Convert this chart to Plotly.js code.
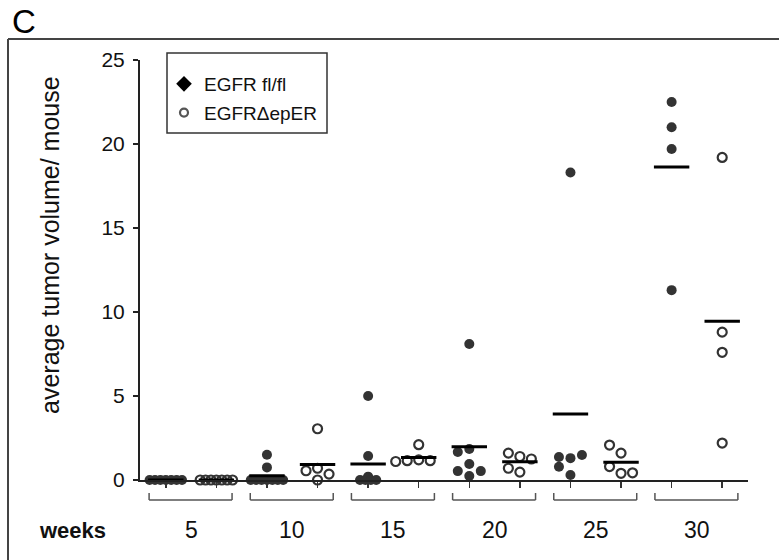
<!DOCTYPE html>
<html>
<head>
<meta charset="utf-8">
<script src="https://cdn.plot.ly/plotly-3.0.1.min.js"></script>
<style>
  html, body { margin: 0; padding: 0; background: #fff; }
  #chart { width: 779px; height: 560px; }
</style>
</head>
<body>
<div id="chart"></div>
<script>
// Time points (weeks after induction)
const weeks = [5, 10, 15, 20, 25, 30];

// Average tumour volume per mouse, one array per time point
const volFloxed = [
  [0, 0, 0, 0, 0, 0, 0],
  [0.75, 1.5, 0, 0, 0, 0, 0, 0, 0],
  [5.0, 1.43, 0.2, 0, 0, 0, 0],
  [8.1, 1.85, 1.67, 0.95, 0.53, 0.53, 0.24],
  [18.3, 1.3, 1.37, 1.49, 0.3, 0.79],
  [22.5, 21.0, 19.7, 11.3]
];
const volDeleted = [
  [0, 0, 0, 0, 0, 0, 0],
  [3.05, 0.7, 0.55, 0.35, 0],
  [2.1, 1.2, 1.15, 1.15, 1.1],
  [1.4, 1.6, 1.25, 0.47, 0.7],
  [1.6, 2.08, 0.4, 0.8, 0.43],
  [19.2, 8.8, 7.6, 2.2]
];

const groupNames = ['EGFR fl/fl', 'EGFR\u0394epER'];
const yTicks = [0, 5, 10, 15, 20, 25];

const X_RANGE = [0.49, 12.51];
const Y_RANGE = [0, 25];
const M = { l: 140, r: 31, t: 60, b: 80 };
const PLOT_W = 779 - M.l - M.r;
const PLOT_H = 560 - M.t - M.b;
const PX_PER_X = PLOT_W / (X_RANGE[1] - X_RANGE[0]);
const PX_PER_Y = PLOT_H / (Y_RANGE[1] - Y_RANGE[0]);

const INK = '#333333';

// Simple beeswarm: zero values sit in a tight row, others are nudged
// sideways in steps until they no longer overlap earlier points.
function swarm(values) {
  const STEP = 11.5, MIN_DIST = 9.5, ZERO_STEP = 5.4;
  const xs = new Array(values.length).fill(0);
  const zeroIdx = [];
  values.forEach((v, i) => { if (v === 0) zeroIdx.push(i); });
  zeroIdx.forEach((idx, k) => { xs[idx] = (k - (zeroIdx.length - 1) / 2) * ZERO_STEP; });
  const placed = [];
  values.forEach((v, i) => {
    if (v === 0) return;
    const py = v * PX_PER_Y;
    for (let k = 0; k < 30; k++) {
      const cand = k === 0 ? 0 : (k % 2 ? -1 : 1) * Math.ceil(k / 2) * STEP;
      if (placed.every(p => Math.hypot(p.x - cand, p.y - py) >= MIN_DIST)) {
        xs[i] = cand;
        placed.push({ x: cand, y: py });
        break;
      }
    }
  });
  return xs.map(p => p / PX_PER_X);
}

const mean = a => a.reduce((s, v) => s + v, 0) / a.length;
const slot = (wi, g) => 2 * wi + g + 1;

const traces = [];
const meanX = [], meanY = [];

[volFloxed, volDeleted].forEach((series, g) => {
  const xs = [], ys = [];
  series.forEach((vals, wi) => {
    const offs = swarm(vals);
    vals.forEach((v, j) => { xs.push(slot(wi, g) + offs[j]); ys.push(v); });
    const m = mean(vals);
    meanX.push(slot(wi, g) - 0.35, slot(wi, g) + 0.35, null);
    meanY.push(m, m, null);
  });
  traces.push({
    type: 'scatter', mode: 'markers', x: xs, y: ys,
    showlegend: false, cliponaxis: false, hoverinfo: 'skip',
    marker: g === 0
      ? { symbol: 'circle', size: 10, color: INK, line: { width: 0 } }
      : { symbol: 'circle-open', size: 9, color: INK, line: { width: 2.2, color: INK } }
  });
});

// Group means
traces.push({
  type: 'scatter', mode: 'lines', x: meanX, y: meanY,
  showlegend: false, cliponaxis: false, hoverinfo: 'skip',
  line: { color: '#000', width: 3 }
});

// Legend entries
traces.push({
  type: 'scatter', mode: 'markers', x: [null], y: [null], name: groupNames[0],
  legendgroup: 'a', marker: { symbol: 'diamond', size: 12, color: '#000' }
});
traces.push({
  type: 'scatter', mode: 'markers', x: [null], y: [null], name: groupNames[1],
  legendgroup: 'b', marker: { symbol: 'circle-open', size: 8, color: '#555', line: { width: 2.2, color: '#555' } }
});

const px2paperX = px => (px - M.l) / PLOT_W;
const px2paperY = py => (560 - M.b - py) / PLOT_H;

// Brackets under each pair of groups, legend box and the panel frame
const shapes = [];
const BR_TOP = -13 / PLOT_H, BR_BOT = -20 / PLOT_H;
weeks.forEach((w, wi) => {
  const x0 = slot(wi, 0) - 0.33, x1 = slot(wi, 1) + 0.31;
  const ln = { color: '#555', width: 1.5 };
  shapes.push({ type: 'line', xref: 'x', yref: 'paper', x0, x1, y0: BR_BOT, y1: BR_BOT, line: ln });
  shapes.push({ type: 'line', xref: 'x', yref: 'paper', x0, x1: x0, y0: BR_BOT, y1: BR_TOP, line: ln });
  shapes.push({ type: 'line', xref: 'x', yref: 'paper', x0: x1, x1, y0: BR_BOT, y1: BR_TOP, line: ln });
});
shapes.push({
  type: 'rect', xref: 'paper', yref: 'paper', layer: 'below',
  x0: px2paperX(167), x1: px2paperX(327), y0: px2paperY(133), y1: px2paperY(53),
  line: { color: '#333', width: 1.5 }, fillcolor: '#fff'
});
const frame = { color: '#444', width: 2 };
shapes.push({ type: 'line', xref: 'paper', yref: 'paper', x0: px2paperX(8), x1: px2paperX(782), y0: px2paperY(39), y1: px2paperY(39), line: frame });
shapes.push({ type: 'line', xref: 'paper', yref: 'paper', x0: px2paperX(8), x1: px2paperX(8), y0: px2paperY(39), y1: px2paperY(563), line: frame });

const FONT = 'Arial, "Liberation Sans", sans-serif';
const annotations = weeks.map((w, wi) => ({
  xref: 'x', yref: 'paper', x: slot(wi, 0) + 0.5, y: px2paperY(530),
  text: String(w), showarrow: false, xanchor: 'center', yanchor: 'middle',
  font: { family: FONT, size: 23, color: '#111' }
}));
annotations.push({
  xref: 'paper', yref: 'paper', x: px2paperX(72), y: px2paperY(530),
  text: '<b>weeks</b>', showarrow: false, xanchor: 'center', yanchor: 'middle',
  font: { family: FONT, size: 22, color: '#111' }
});
annotations.push({
  xref: 'paper', yref: 'paper', x: px2paperX(50), y: px2paperY(245),
  text: 'average tumor volume/ mouse', showarrow: false, textangle: -90,
  xanchor: 'center', yanchor: 'middle',
  font: { family: FONT, size: 25, color: '#111' }
});
annotations.push({
  xref: 'paper', yref: 'paper', x: px2paperX(10), y: px2paperY(21),
  text: 'C', showarrow: false, xanchor: 'left', yanchor: 'middle',
  font: { family: FONT, size: 33, color: '#000' }
});

const layout = {
  width: 779, height: 560,
  margin: M,
  paper_bgcolor: '#fff', plot_bgcolor: '#fff',
  font: { family: FONT, color: '#111' },
  showlegend: true,
  legend: {
    x: px2paperX(164), y: px2paperY(65), xanchor: 'left', yanchor: 'top',
    bgcolor: 'rgba(0,0,0,0)', borderwidth: 0,
    font: { family: FONT, size: 19, color: '#111' },
    tracegroupgap: 1, itemwidth: 30
  },
  xaxis: {
    range: X_RANGE, tickvals: [1, 2, 3, 4, 5, 6, 7, 8, 9, 10, 11, 12],
    showticklabels: false, ticks: 'outside', ticklen: 6, tickwidth: 1.5, tickcolor: '#333',
    showline: true, linecolor: '#222', linewidth: 2, showgrid: false, zeroline: false,
    fixedrange: true
  },
  yaxis: {
    range: Y_RANGE, tickvals: yTicks, ticktext: yTicks.map(String),
    ticks: 'outside', ticklen: 5, tickwidth: 1.5, tickcolor: '#222',
    tickfont: { family: FONT, size: 21, color: '#111' }, ticklabelstandoff: 4,
    showline: true, linecolor: '#222', linewidth: 2, showgrid: false, zeroline: false,
    fixedrange: true
  },
  shapes, annotations
};

Plotly.newPlot('chart', traces, layout, { staticPlot: true, displayModeBar: false });
</script>
</body>
</html>
